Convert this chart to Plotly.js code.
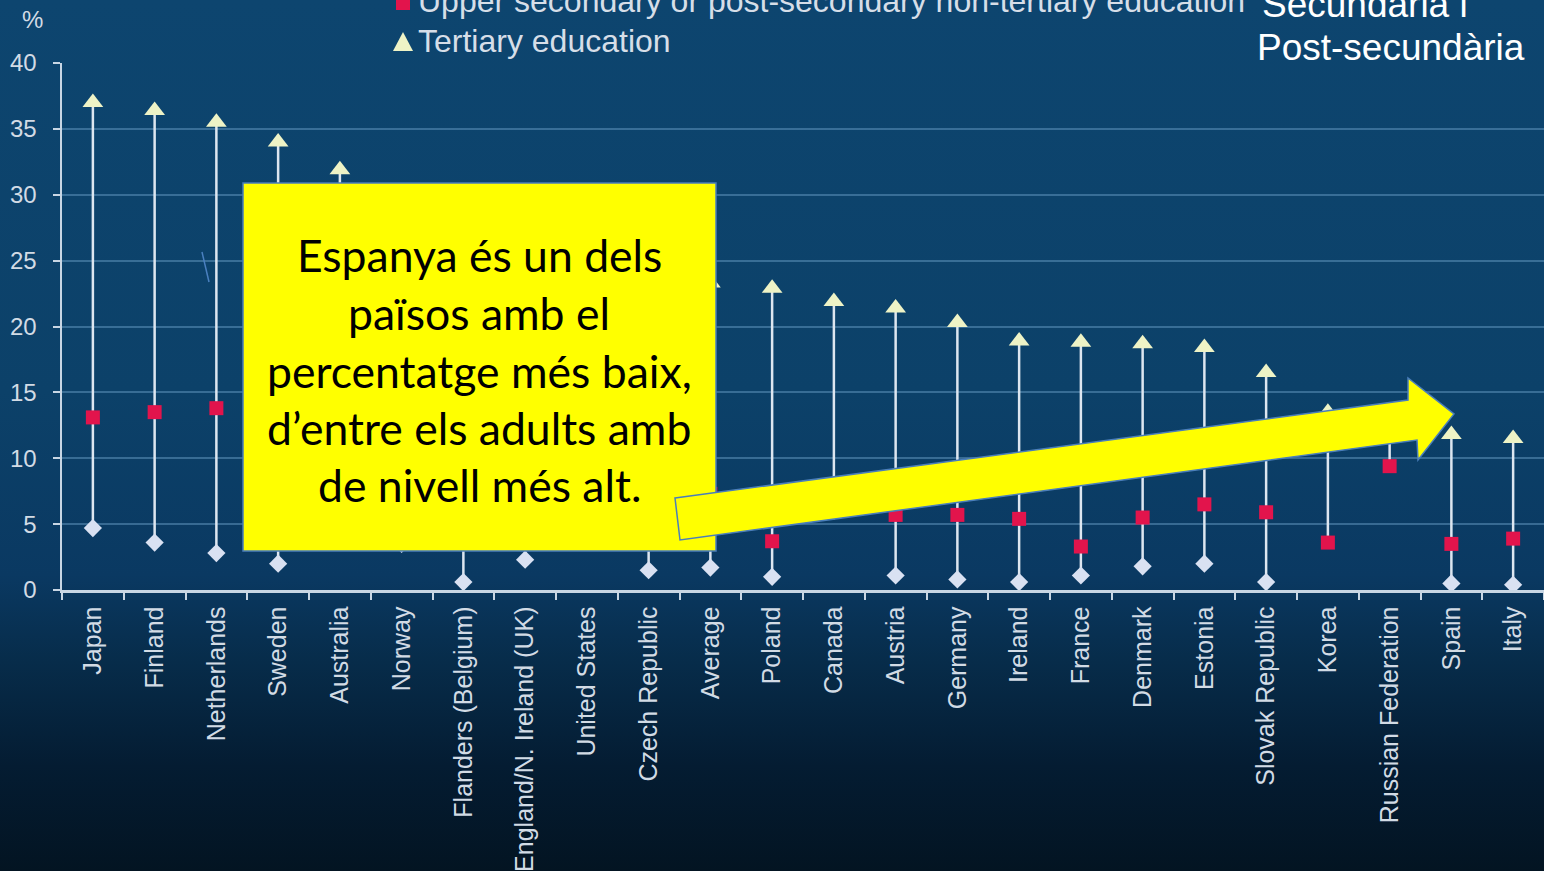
<!DOCTYPE html>
<html>
<head>
<meta charset="utf-8">
<script src="https://cdn.plot.ly/plotly-3.0.1.min.js"></script>
<style>
  html, body { margin: 0; padding: 0; width: 1544px; height: 871px; overflow: hidden;
    background: linear-gradient(to bottom, #0d456f 0%, #0c4169 45%, #0a3962 66%, #072c4a 76%, #041c32 88%, #031422 100%); }
  #chart { width: 1544px; height: 871px; }
</style>
</head>
<body>
<div id="chart"></div>
<script>
// ---- Data ----
const categories = ["Japan", "Finland", "Netherlands", "Sweden", "Australia", "Norway",
  "Flanders (Belgium)", "England/N. Ireland (UK)", "United States", "Czech Republic", "Average",
  "Poland", "Canada", "Austria", "Germany", "Ireland", "France", "Denmark", "Estonia",
  "Slovak Republic", "Korea", "Russian Federation", "Spain", "Italy"];

const tertiary = [37.0, 36.4, 35.5, 34.0, 31.9, 29.8, 28.5, 27.5, 26.2, 24.8, 23.3,
  22.9, 21.9, 21.4, 20.3, 18.9, 18.8, 18.7, 18.4, 16.5, 13.5, 12.5, 11.8, 11.5];

const upperSecondary = [13.1, 13.5, 13.8, 11.5, 10.5, 9.5, 7.5, 8.0, 6.5, 7.0, 7.3,
  3.7, 7.5, 5.7, 5.7, 5.4, 3.3, 5.5, 6.5, 5.9, 3.6, 9.4, 3.5, 3.9];

const belowUpperSecondary = [4.7, 3.6, 2.8, 2.0, 4.3, 3.5, 0.6, 2.3, null, 1.5, 1.7,
  1.0, 6.0, 1.1, 0.8, 0.6, 1.1, 1.8, 2.0, 0.6, null, null, 0.5, 0.4];

const legendLabels = ["Upper secondary or post-secondary non-tertiary education", "Tertiary education"];
const boxLines = ["Espanya és un dels", "països amb el", "percentatge més baix,", "d’entre els adults amb", "de nivell més alt."];
const cornerLines = ["Secundària i", "Post-secundària"];

// ---- Range segments (min to max per category) ----
const segX = [], segY = [];
categories.forEach((c, i) => {
  const vals = [tertiary[i], upperSecondary[i], belowUpperSecondary[i]].filter(v => v !== null);
  segX.push(c, c, null);
  segY.push(Math.min(...vals), Math.max(...vals), null);
});

// ---- Pixel helpers for decorations ----
const L = 62, R = 1544, T = 63, B = 590;
const px = x => (x - L) / (R - L);
const py = y => (B - y) / (B - T);

const traces = [
  { type: "scatter", mode: "lines", x: segX, y: segY, hoverinfo: "skip",
    line: { color: "#dde6f0", width: 2.5 }, showlegend: false },
  { type: "scatter", mode: "markers", x: categories, y: belowUpperSecondary, name: "Below upper secondary education",
    marker: { symbol: "diamond", size: 14, color: "#d9e1f2" }, showlegend: false },
  { type: "scatter", mode: "markers", x: categories, y: upperSecondary, name: legendLabels[0],
    marker: { symbol: "square", size: 14, color: "#e2144c" }, showlegend: false },
  { type: "scatter", mode: "markers", x: categories, y: tertiary, name: legendLabels[1],
    marker: { symbol: "triangle-up", size: 18, color: "#eef3c6" }, showlegend: false }
];

const yTickFont = { family: "Liberation Sans, Arial, sans-serif", size: 24, color: "#d2dbe5" };
const xTickFont = { family: "Liberation Sans, Arial, sans-serif", size: 25, color: "#d2dbe5" };

const shapes = [
  // legend markers
  { type: "rect", xref: "paper", yref: "paper", x0: px(396), x1: px(410), y0: py(10), y1: py(-4),
    fillcolor: "#e2144c", line: { width: 0 } },
  { type: "path", xref: "paper", yref: "paper",
    path: `M ${px(393)} ${py(51)} L ${px(413)} ${py(51)} L ${px(403)} ${py(32)} Z`,
    fillcolor: "#eef3c6", line: { width: 0 } },
  // stray stroke
  { type: "line", xref: "paper", yref: "paper", x0: px(202), y0: py(252), x1: px(209), y1: py(282),
    line: { color: "#4a80c0", width: 1.5 }, layer: "above" },
  // yellow box
  { type: "rect", xref: "paper", yref: "paper", x0: px(243), x1: px(716), y0: py(551), y1: py(183),
    fillcolor: "#ffff00", line: { color: "#4a7ebb", width: 1.5 }, layer: "above" },
  // yellow arrow
  { type: "path", xref: "paper", yref: "paper", layer: "above",
    path: `M ${px(675)} ${py(498)} L ${px(1408)} ${py(400)} L ${px(1408)} ${py(378)} L ${px(1454)} ${py(414)} L ${px(1418)} ${py(460)} L ${px(1417)} ${py(440)} L ${px(680)} ${py(540)} Z`,
    fillcolor: "#ffff00", line: { color: "#4a7ebb", width: 1.5 } }
];

const annotations = [
  { xref: "paper", yref: "paper", x: px(32), y: py(19), text: "%", showarrow: false,
    xanchor: "center", yanchor: "middle", font: yTickFont },
  { xref: "paper", yref: "paper", x: px(416), y: py(1), text: legendLabels[0], showarrow: false,
    xanchor: "left", yanchor: "middle", font: { family: "Liberation Sans, Arial, sans-serif", size: 32, color: "#d6dee8" } },
  { xref: "paper", yref: "paper", x: px(416), y: py(41), text: legendLabels[1], showarrow: false,
    xanchor: "left", yanchor: "middle", font: { family: "Liberation Sans, Arial, sans-serif", size: 32, color: "#d6dee8" } },
  { xref: "paper", yref: "paper", x: px(1260), y: py(5), text: cornerLines[0], showarrow: false,
    xanchor: "left", yanchor: "middle", font: { family: "Liberation Sans, Arial, sans-serif", size: 37, color: "#ffffff" } },
  { xref: "paper", yref: "paper", x: px(1255), y: py(47), text: cornerLines[1], showarrow: false,
    xanchor: "left", yanchor: "middle", font: { family: "Liberation Sans, Arial, sans-serif", size: 37, color: "#ffffff" } }
];
const lineYs = [254, 312, 370, 427, 484];
boxLines.forEach((t, i) => {
  annotations.push({ xref: "paper", yref: "paper", x: px(479), y: py(lineYs[i]), text: t, showarrow: false,
    xanchor: "center", yanchor: "middle", font: { family: "Lato, Noto Sans, sans-serif", size: 44.5, color: "#000000" } });
});

const layout = {
  width: 1544, height: 871,
  margin: { l: L, r: 0, t: T, b: 871 - B, pad: 0 },
  paper_bgcolor: "rgba(0,0,0,0)", plot_bgcolor: "rgba(0,0,0,0)",
  showlegend: false,
  xaxis: {
    type: "category", range: [-0.5, categories.length - 0.5], tickangle: -90,
    tickfont: xTickFont, ticks: "outside", ticklen: 7, tickwidth: 2, tickcolor: "#c8d6e4",
    tickson: "boundaries", showline: true, linecolor: "#c8d6e4", linewidth: 2.5,
    showgrid: false, zeroline: false, fixedrange: true, ticklabelstandoff: 4
  },
  yaxis: {
    range: [0, 40], dtick: 5, tick0: 0, tickfont: yTickFont, ticks: "outside", ticklen: 7,
    tickwidth: 2, tickcolor: "#c8d6e4", showline: true, linecolor: "#c8d6e4", linewidth: 2.5,
    showgrid: true, gridcolor: "rgba(110,165,205,0.45)", gridwidth: 2, zeroline: false,
    ticklabelstandoff: 11, fixedrange: true
  },
  shapes: shapes,
  annotations: annotations
};

Plotly.newPlot("chart", traces, layout, { staticPlot: true, displayModeBar: false });
</script>
</body>
</html>
